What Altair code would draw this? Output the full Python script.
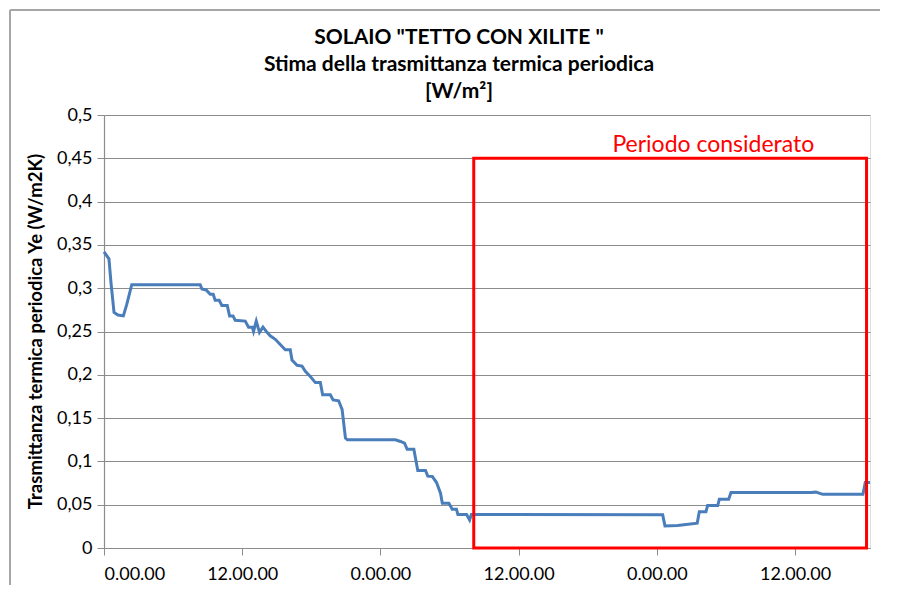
import altair as alt
import pandas as pd

# time in hours from start, and periodic thermal transmittance Ye (W/m2K)
hours = [0.0, 0.43, 0.61, 0.87, 1.22, 1.68, 1.97, 2.41, 8.35, 8.50, 8.87, 9.22, 9.48, 9.65, 10.0,
         10.23, 10.7, 10.9, 11.2, 11.39, 12.26, 12.55, 12.87, 12.98, 13.22, 13.5, 13.8, 14.15,
         14.43, 14.87, 15.3, 15.74, 16.17, 16.32, 16.76, 17.19, 17.48, 17.91, 18.35, 18.78,
         18.98, 19.65, 19.89, 20.37, 20.67, 20.96, 21.13, 25.3, 25.74, 26.09, 26.32, 26.9,
         27.24, 27.91, 28.11, 28.5, 28.87, 29.22, 29.37, 29.94, 30.23, 30.6, 30.72, 31.48,
         31.74, 31.89, 48.5, 48.7, 49.8, 51.5, 51.68, 52.26, 52.4, 53.28, 53.42, 54.23, 54.43,
         61.39, 61.8, 62.4, 65.89, 66.09, 66.5]
values = [0.342, 0.334, 0.306, 0.272, 0.269, 0.268, 0.281, 0.304, 0.304, 0.299, 0.298, 0.293,
          0.293, 0.286, 0.286, 0.280, 0.280, 0.268, 0.268, 0.263, 0.262, 0.255, 0.255, 0.250,
          0.262, 0.249, 0.255, 0.249, 0.245, 0.241, 0.235, 0.229, 0.229, 0.217, 0.211, 0.210,
          0.204, 0.198, 0.191, 0.191, 0.177, 0.177, 0.171, 0.170, 0.160, 0.127, 0.125, 0.125,
          0.123, 0.121, 0.114, 0.114, 0.0895, 0.0895, 0.083, 0.0826, 0.0756, 0.063, 0.0517,
          0.0517, 0.0448, 0.0448, 0.0386, 0.0386, 0.0324, 0.0386, 0.0385, 0.0255, 0.026,
          0.0286, 0.042, 0.042, 0.049, 0.049, 0.0563, 0.0563, 0.064, 0.064, 0.0645, 0.062,
          0.062, 0.0756, 0.0756]

x_ticks = [0, 12, 24, 36, 48, 60]
y_ticks = [0, 0.05, 0.1, 0.15, 0.2, 0.25, 0.3, 0.35, 0.4, 0.45, 0.5]

period_start = [32.1]
period_end = [66.2]
period_top = [0.45]
period_label = ["Periodo considerato"]
period_label_x = [52.9]
period_label_y = [0.465]

title_lines = ['SOLAIO "TETTO CON XILITE "', "Stima della trasmittanza termica periodica", "[W/m²]"]
y_title = "Trasmittanza termica periodica Ye (W/m2K)"

df = pd.DataFrame({"h": hours, "ye": values})
box = pd.DataFrame({"x1": period_start, "x2": period_end, "y1": [0.0], "y2": period_top})
lab = pd.DataFrame({"x": period_label_x, "y": period_label_y, "t": period_label})

FONT = "Lato"
GRAY = "#8c8c8c"

xscale = alt.Scale(domain=[0, 66.5], nice=False, zero=False)
yscale = alt.Scale(domain=[0, 0.5], nice=False)

xaxis = alt.Axis(values=x_ticks, grid=False, title=None,
                 labelExpr="datum.value % 24 == 0 ? '0.00.00' : '12.00.00'",
                 labelFont=FONT, labelFontSize=18, labelColor="#000000", labelPadding=10,
                 tickColor=GRAY, tickSize=7, domainColor=GRAY, domainWidth=1.2)
yaxis = alt.Axis(values=y_ticks, grid=True, gridColor=GRAY, gridWidth=1.2,
                 labelExpr="replace(format(datum.value, '.2~f'), '.', ',')",
                 labelFont=FONT, labelFontSize=18, labelColor="#000000", labelPadding=5,
                 tickColor=GRAY, tickSize=7, domainColor=GRAY, domainWidth=1.2,
                 title=y_title, titleFont=FONT, titleFontSize=18.5, titleFontWeight="bold",
                 titleColor="#000000", titleX=-69, titleY=216, titleBaseline="middle",
                 titleAngle=270, titleAlign="center")

line = alt.Chart(df).mark_line(color="#4a7ebb", strokeWidth=3).encode(
    x=alt.X("h:Q", scale=xscale, axis=xaxis),
    y=alt.Y("ye:Q", scale=yscale, axis=yaxis),
)

rect = alt.Chart(box).mark_rect(fill="white", fillOpacity=0, stroke="#ff0000", strokeWidth=3).encode(
    x=alt.X("x1:Q", scale=xscale), x2="x2:Q",
    y=alt.Y("y1:Q", scale=yscale), y2="y2:Q",
)

text = alt.Chart(lab).mark_text(color="#ff0000", font=FONT, fontSize=23, align="center",
                                baseline="middle").encode(
    x=alt.X("x:Q", scale=xscale), y=alt.Y("y:Q", scale=yscale), text="t:N")

one = pd.DataFrame({"a": [0]})
frame_top = alt.Chart(one).mark_rule(color="#a6a6a6", strokeWidth=2).encode(
    x=alt.value(-94), x2=alt.value(776), y=alt.value(-105))
frame_left = alt.Chart(one).mark_rule(color="#a6a6a6", strokeWidth=2).encode(
    x=alt.value(-94), y=alt.value(-105), y2=alt.value(470))

chart = alt.layer(frame_top, frame_left, line, rect, text).properties(
    width=766, height=433,
    title=alt.TitleParams(text=title_lines, font=FONT, fontSize=21, fontWeight="bold",
                          color="#000000", anchor="middle", dx=-28, offset=-93, lineHeight=27),
    autosize=alt.AutoSizeParams(type="none"),
    padding={"left": 96, "top": 107, "right": 19, "bottom": 38},
).configure_view(stroke=None).configure(background="white")

chart.save("out.html", embed_options={"renderer": "svg", "actions": False})
